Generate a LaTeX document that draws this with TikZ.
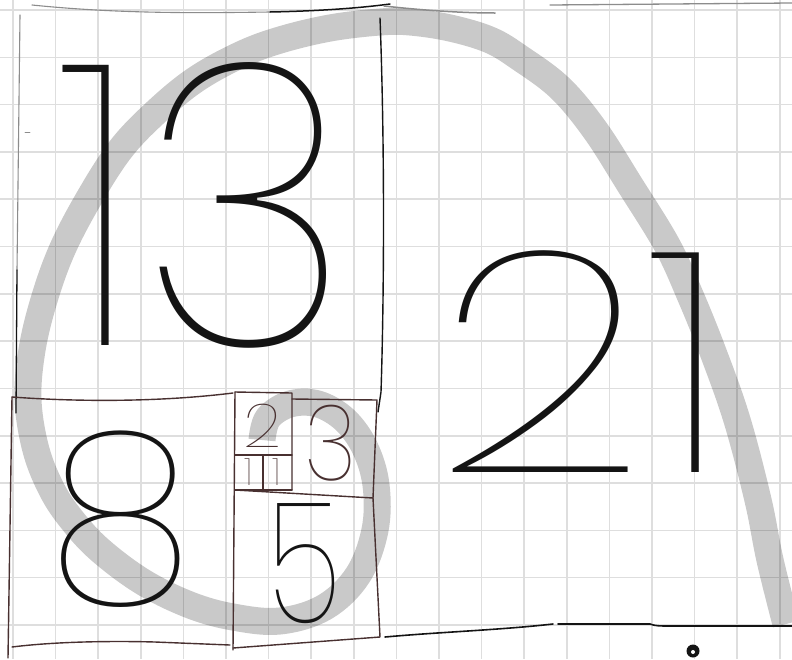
\documentclass[tikz,border=0pt]{standalone}
\usepackage{fontspec}
\IfFontExistsTF{Poppins Thin}{\newfontfamily\hand{Poppins Thin}}{%
 \IfFontExistsTF{Lato Hairline}{\newfontfamily\hand{Lato Hairline}}{%
  \IfFontExistsTF{Fira Sans Thin}{\newfontfamily\hand{Fira Sans Thin}}{%
   \IfFontExistsTF{Lato Thin}{\newfontfamily\hand{Lato Thin}}{%
    \IfFontExistsTF{Fira Sans Light}{\newfontfamily\hand{Fira Sans Light}}{%
     \IfFontExistsTF{DejaVu Sans ExtraLight}{\newfontfamily\hand{DejaVu Sans ExtraLight}}{%
      \newfontfamily\hand{Fira Sans}}}}}}}
\definecolor{boxbrown}{RGB}{72,48,48}
\definecolor{inkblack}{RGB}{20,20,20}
\tikzset{
  gridline/.style={draw=black!13, line width=1.6pt},
  band/.style={draw=black, draw opacity=0.21, line width=27pt, line cap=butt, line join=round},
  pen/.style={draw=inkblack, line width=1.8pt, line cap=round, line join=round},
  lightpen/.style={draw=black!45, line width=1.1pt, line cap=round},
  brownpen/.style={draw=boxbrown, line width=1.4pt, line cap=round, line join=round},
  digit/.style={inner sep=0pt, outer sep=0pt, font=\hand, text=inkblack},
}
\begin{document}
\begin{tikzpicture}[x=1pt, y=-1pt]
\useasboundingbox (0,0) rectangle (792,659);
\fill[white] (0,0) rectangle (792,659);
% grid paper
\foreach \k in {0,...,18} \draw[gridline] ({13+42.6*\k},0) -- ({13+42.6*\k},659);
\foreach \k in {0,...,13} \draw[gridline] (0,{10+47.3*\k}) -- (792,{10+47.3*\k});
% spiral band
\draw[band] plot[smooth, tension=0.6] coordinates {
 (786,624) (770,560) (758,500) (737,420) (713,352) (690,295) (667,245) (630,185)
 (595,130) (560,88) (520,58) (490,40) (450,28) (410,22) (380,22) (330,28) (280,40)
 (240,55) (195,80) (155,113) (120,150) (88,200) (62,250) (44,300) (32,350) (28,400)
 (36,450) (52,490) (72,520) (100,550) (143,582) (190,605) (233,617) (280,621)
 (325,607) (358,575) (375,530) (376,485) (365,448) (345,420) (318,404) (290,404)
 (268,418) (262,440)};
% outer lines
\coordinate (tl) at (32,5);
\coordinate (tm) at (270,12);
\coordinate (tr) at (390,4);
\draw[lightpen] (tl) .. controls (120,14) and (200,13) .. (tm);
\draw[pen, line width=1.5pt] (tm) .. controls (320,11) and (360,8) .. (tr);
\coordinate (ta) at (384,6);
\coordinate (tb) at (495,13);
\draw[lightpen, line width=1.5pt] (ta) .. controls (420,10) and (460,13) .. (tb);
\coordinate (tc) at (550,5);
\coordinate (td) at (792,3);
\draw[lightpen, line width=1.3pt] (tc) -- (td);
% 13 square sides
\coordinate (la) at (20,15);
\coordinate (lb) at (17,270);
\coordinate (lc) at (16,413);
\draw[lightpen] (la) -- (lb);
\draw[pen, line width=1.3pt] (lb) -- (lc);
\coordinate (mark1) at (25,132);
\coordinate (mark2) at (30,132);
\draw[lightpen, line width=0.8pt] (mark1) -- (mark2);
\coordinate (ra) at (380,18);
\coordinate (rb) at (378,412);
\draw[pen, line width=1.4pt] (ra) .. controls (385,150) and (384,300) .. (381,392) -- (rb);
% 8 square
\coordinate (e1) at (12,397);
\coordinate (e2) at (233,393);
\coordinate (e3) at (8,658);
\coordinate (e4) at (12,647);
\coordinate (e5) at (230,645);
\draw[brownpen] (e1) .. controls (80,402) and (160,402) .. (e2);
\draw[brownpen] (e1) -- (e3);
\draw[brownpen] (e4) .. controls (60,641) and (120,641) .. (155,642) -- (e5);
% small squares
\coordinate (s1) at (235,392);
\coordinate (s2) at (233,650);
\coordinate (s3) at (292,393);
\coordinate (s4) at (292,490);
\coordinate (s5) at (235,455);
\coordinate (s6) at (292,455);
\coordinate (s7) at (235,490);
\coordinate (s8) at (263,455);
\coordinate (s9) at (263,490);
\draw[brownpen] (s1) -- (s2);
\draw[brownpen] (s1) -- (s3) -- (s4);
\draw[brownpen] (s5) -- (s6);
\draw[brownpen] (s7) -- (s4);
\draw[brownpen] (s8) -- (s9);
\coordinate (t1) at (292,399);
\coordinate (t2) at (377,400);
\coordinate (t3) at (373,498);
\draw[brownpen] (t1) -- (t2) -- (t3);
\draw[brownpen] (s7) -- (t3);
\coordinate (f1) at (380,637);
\coordinate (f2) at (233,648);
\draw[brownpen] (t3) -- (f1) -- (f2);
% bottom line right
\coordinate (b1) at (385,637);
\coordinate (b2) at (553,624);
\coordinate (b3) at (558,624);
\coordinate (b4) at (792,626);
\draw[pen, line width=1.6pt] (b1) .. controls (440,632) and (500,630) .. (b2);
\draw[pen, line width=1.6pt] (b3) -- (650,624) .. controls (655,626) and (660,626) .. (670,626) -- (b4);
% logo mark
\coordinate (logo) at (693,651);
\fill[inkblack] (logo) circle (6.5);
\fill[white] (693,652) circle (2);
% digits
\node[digit, xscale=0.92] (n13) at (204,205) {\fontsize{398}{398}\selectfont 13};
\node[digit, xscale=1.2] (n21) at (583,362) {\fontsize{312}{312}\selectfont 21};
\node[digit, xscale=0.99] (n8) at (121,519) {\fontsize{240}{240}\selectfont 8};
\node[digit, xscale=0.74] (n5) at (305,564) {\fontsize{169}{169}\selectfont 5};
\node[digit, text=boxbrown, xscale=0.86] (n3) at (331,443) {\fontsize{106}{106}\selectfont 3};
\node[digit, text=boxbrown, xscale=1.1] (n2) at (263,426) {\fontsize{61}{61}\selectfont 2};
\node[digit, text=boxbrown] (n1a) at (249,472) {\fontsize{38}{38}\selectfont 1};
\node[digit, text=boxbrown] (n1b) at (277,472) {\fontsize{38}{38}\selectfont 1};
\end{tikzpicture}
\end{document}
